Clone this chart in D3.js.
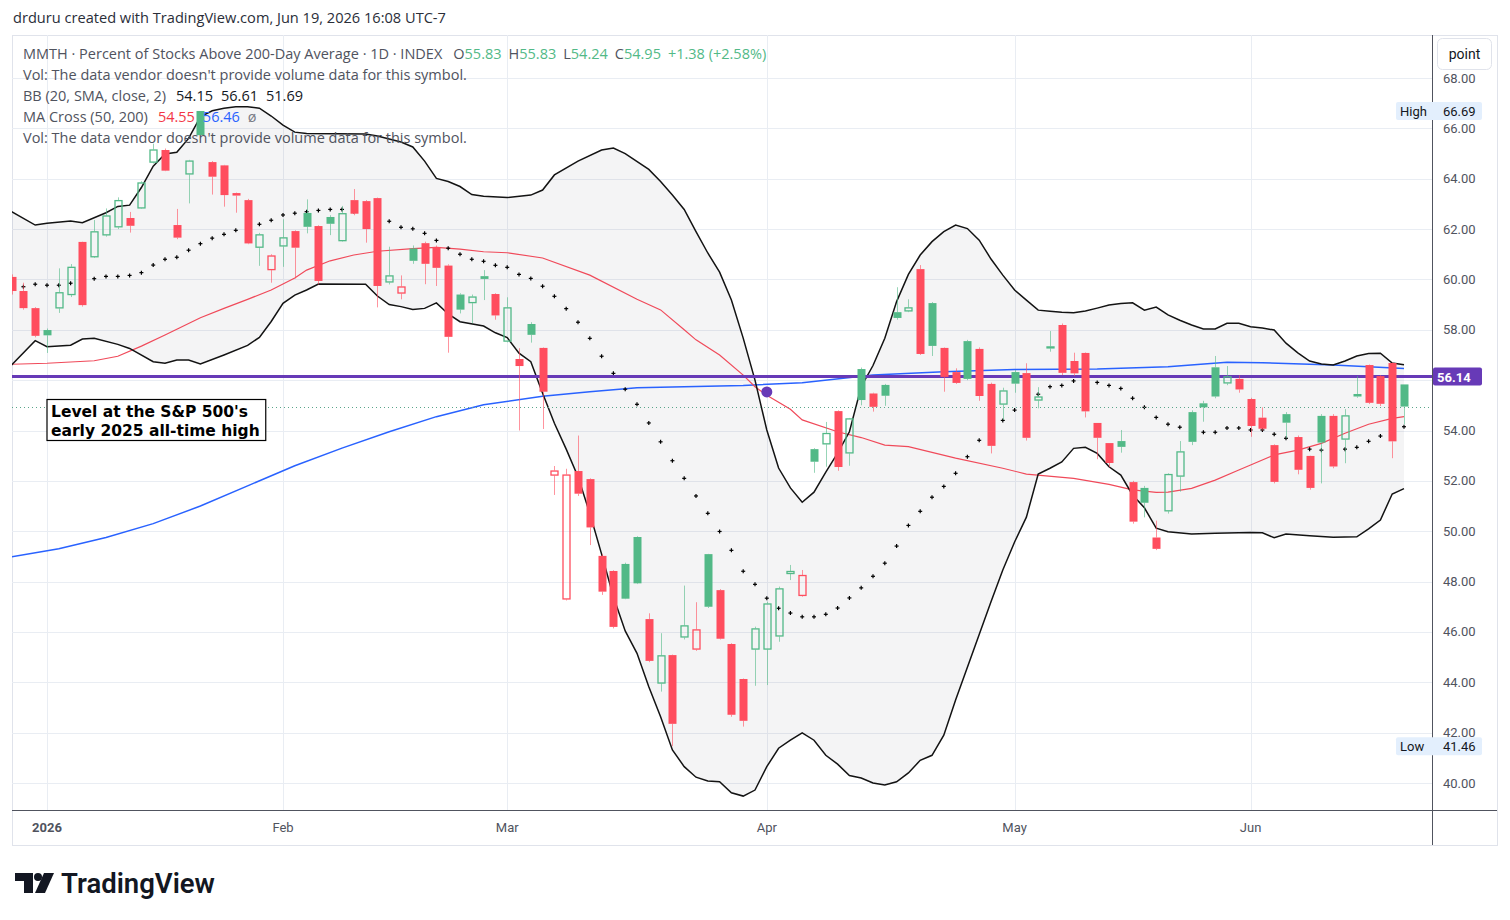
<!DOCTYPE html>
<html>
<head>
<meta charset="utf-8">
<script src="https://cdn.jsdelivr.net/npm/d3@7"></script>
<style>
  body { margin: 0; background: #fff; }
  svg { display: block; font-family: Roboto, "Noto Sans", sans-serif; }
  .legend, .caption { font-family: "Open Sans", "Noto Sans", sans-serif; }
</style>
</head>
<body>
<svg id="chart" width="1510" height="920"></svg>
<script>
// ---- data (Dec 29 2025 .. Jun 18 2026) ----
var holidays = ["2026-01-01", "2026-01-19", "2026-02-16", "2026-04-03", "2026-05-25", "2026-06-19"];

var opens = [60.10,59.54,58.86,57.99,58.85,59.38,61.49,60.88,61.75,62.07,
  62.44,62.82,64.64,65.14,62.16,64.17,66.69,64.66,64.53,63.43,
  63.15,61.26,60.37,61.31,61.92,62.64,62.12,62.48,61.52,63.15,
  63.11,63.23,59.88,59.44,61.23,61.44,61.29,60.55,59.40,59.06,
  60.13,59.42,57.53,56.84,58.23,57.28,52.21,47.29,52.39,52.07,
  49.02,48.42,48.70,49.77,46.51,43.95,45.08,45.78,45.30,49.09,
  47.66,45.52,44.13,45.30,45.30,45.82,48.30,47.43,53.26,53.45,
  54.77,53.09,56.44,55.47,55.81,58.70,58.73,60.41,59.06,57.28,
  56.32,57.55,57.24,55.85,55.03,56.32,56.28,55.19,57.26,58.19,
  56.76,57.08,54.30,53.50,53.58,51.95,51.72,49.75,50.79,52.17,
  54.73,55.08,56.51,55.87,56.05,55.25,54.51,53.42,54.65,53.74,
  52.99,54.58,54.58,53.64,55.45,56.60,56.16,56.68,55.83];
var highs = [60.20,59.87,58.90,58.05,60.44,60.61,61.50,62.36,62.82,63.26,
  62.68,63.90,65.39,65.20,62.80,64.75,66.69,64.70,64.55,63.45,
  63.20,61.85,61.00,62.39,61.95,63.18,62.15,62.55,62.92,63.59,
  63.15,63.25,61.30,60.16,61.35,61.50,61.35,60.60,59.45,59.40,
  60.37,59.45,59.29,57.27,58.30,57.30,52.59,52.48,53.80,52.10,
  49.10,48.45,48.75,49.80,46.74,45.95,45.10,47.84,47.18,49.10,
  47.70,45.55,44.15,46.21,47.20,47.80,48.66,48.46,53.30,54.34,
  54.80,54.50,56.50,55.50,55.85,59.69,59.21,60.57,59.10,57.30,
  56.47,57.60,57.30,55.90,55.70,56.40,56.67,55.72,57.95,58.25,
  57.09,57.10,54.30,53.50,54.02,52.00,51.80,50.42,52.30,53.58,
  54.80,55.18,56.96,56.56,56.19,55.30,54.92,53.45,54.73,53.80,
  53.00,54.65,54.65,54.85,56.16,56.62,56.20,56.70,55.83];
var lows = [59.40,58.80,57.70,57.08,58.67,59.30,58.92,60.85,61.70,62.00,
  61.86,62.80,64.60,64.30,61.60,63.02,65.70,63.37,62.89,62.65,
  61.40,60.54,59.87,60.50,60.04,61.83,59.80,61.76,61.50,62.55,
  61.46,58.89,59.80,59.21,60.62,59.81,59.74,57.09,58.65,58.26,
  59.18,58.40,57.50,54.00,57.49,54.06,51.44,47.25,51.40,49.45,
  47.47,46.14,47.30,47.90,44.80,43.63,41.46,45.70,45.25,46.95,
  45.70,42.63,42.24,43.86,43.89,45.61,48.06,47.40,52.32,52.56,
  52.40,52.60,55.00,54.75,54.98,58.40,58.70,57.00,56.96,55.54,
  55.85,56.00,55.18,53.09,54.42,55.50,53.60,54.88,57.13,56.20,
  56.16,54.52,52.86,52.54,53.12,50.30,50.55,49.25,50.70,51.57,
  53.42,54.35,55.28,55.80,55.50,53.75,54.00,51.90,53.69,52.26,
  51.65,51.90,52.50,52.70,55.30,55.05,54.97,52.90,54.24];
var closes = [59.54,58.86,57.76,57.78,59.49,60.50,58.98,61.91,62.54,63.15,
  62.13,63.85,65.16,64.32,61.66,64.72,65.73,64.08,63.35,63.33,
  61.43,61.79,60.95,61.67,61.26,62.09,59.94,62.21,62.63,62.61,
  62.00,59.74,60.16,59.72,60.74,60.62,60.46,57.72,58.80,59.32,
  60.02,58.57,58.89,56.56,57.80,55.54,52.41,52.25,51.49,50.15,
  47.60,46.20,47.32,47.93,44.85,45.07,42.35,46.26,46.10,47.00,
  45.73,42.71,42.47,46.14,47.13,47.73,48.42,48.26,52.76,53.90,
  52.55,54.48,55.21,54.94,55.38,58.47,58.89,57.04,57.36,56.13,
  55.89,56.05,55.37,53.39,55.59,55.86,53.71,55.35,57.34,56.29,
  56.27,54.76,53.71,52.71,53.35,50.38,51.13,49.30,52.27,53.17,
  53.55,54.92,55.35,56.15,55.63,54.18,54.07,51.96,54.31,52.44,
  51.72,53.52,52.57,54.60,55.35,55.10,55.06,53.57,54.95];

// BB middle (20 SMA), one value per bar
var bbMid = [59.74,59.71,59.81,59.77,59.77,59.85,59.94,60.03,60.12,60.12,
  60.16,60.27,60.57,60.80,60.88,61.16,61.42,61.64,61.79,61.95,
  62.08,62.19,62.35,62.56,62.63,62.69,62.74,62.78,62.78,62.70,
  62.63,62.45,62.31,62.07,62.01,61.83,61.55,61.24,61.00,60.80,
  60.72,60.56,60.48,60.20,60.04,59.73,59.33,58.84,58.30,57.66,
  56.95,56.27,55.64,55.04,54.30,53.55,52.80,52.10,51.40,50.71,
  49.99,49.24,48.41,47.89,47.34,46.94,46.75,46.60,46.60,46.70,
  46.95,47.35,47.75,48.21,48.73,49.41,50.23,50.79,51.35,51.78,
  52.30,52.96,53.61,54.02,54.40,54.81,55.10,55.44,55.74,55.79,
  55.97,55.97,55.91,55.79,55.67,55.28,54.92,54.52,54.25,54.13,
  54.02,53.93,53.93,54.10,54.10,54.02,54.02,53.85,53.69,53.46,
  53.26,53.22,53.22,53.26,53.33,53.57,53.78,53.94,54.15];

// [bar index, value]
var bbUpper = [[0,62.69],[2,62.16],[3,62.23],[5,62.32],[6,62.25],[8,62.65],[9,62.90],[10,62.95],[11,63.65],[12,64.50],
  [13,64.98],[14,65.05],[15,65.60],[16,66.46],[17,66.70],[18,66.80],[19,66.86],[20,66.86],[21,66.80],[22,66.49],
  [23,66.13],[24,65.85],[25,65.80],[30,65.78],[31,65.70],[33,65.46],[34,65.26],[35,64.70],[36,64.01],[37,63.89],
  [38,63.69],[39,63.37],[40,63.30],[42,63.25],[44,63.35],[45,63.55],[46,64.15],[48,64.70],[50,65.14],[51,65.22],
  [52,65.00],[54,64.37],[55,63.89],[56,63.35],[57,62.78],[58,61.90],[59,61.05],[60,60.29],[61,59.18],[62,57.67],
  [63,56.00],[64,54.02],[65,52.51],[66,51.72],[67,51.15],[68,51.55],[69,52.35],[70,53.10],[71,53.95],[72,55.74],
  [73,56.58],[74,57.66],[75,59.12],[76,60.20],[77,60.97],[78,61.50],[79,61.90],[80,62.16],[81,62.02],[82,61.56],
  [83,60.81],[84,60.17],[85,59.58],[86,59.18],[87,58.78],[88,58.74],[89,58.70],[90,58.68],[91,58.75],[92,58.86],
  [93,58.98],[94,59.04],[95,59.07],[96,58.78],[97,58.90],[98,58.59],[99,58.38],[100,58.19],[101,58.03],[102,58.03],
  [103,58.26],[104,58.26],[105,58.12],[106,58.07],[107,57.99],[108,57.47],[109,57.08],[110,56.76],[111,56.64],[112,56.60],
  [113,56.76],[114,56.96],[115,57.06],[116,57.07],[117,56.68],[118,56.61]];
var bbLower = [[0,56.60],[2,57.57],[3,57.33],[5,57.39],[6,57.63],[7,57.66],[9,57.42],[10,57.26],[12,56.73],[13,56.67],
  [14,56.80],[15,56.80],[16,56.64],[18,57.00],[20,57.38],[21,57.70],[22,58.33],[23,59.05],[24,59.38],[25,59.58],
  [26,59.82],[30,59.81],[31,59.34],[32,59.00],[33,58.92],[34,58.81],[35,58.85],[36,59.07],[37,58.63],[38,58.32],
  [40,58.15],[41,57.88],[42,57.69],[43,57.07],[44,56.73],[45,55.48],[46,54.29],[47,53.26],[48,52.16],[49,50.71],
  [50,49.09],[51,47.40],[52,46.04],[53,45.15],[54,43.82],[55,42.63],[56,41.31],[57,40.65],[58,40.23],[59,40.08],
  [60,40.05],[61,39.61],[62,39.48],[63,39.72],[64,40.65],[65,41.38],[66,41.70],[67,41.99],[68,41.70],[69,41.10],
  [70,40.75],[71,40.30],[72,40.20],[73,40.00],[74,39.92],[75,40.05],[76,40.40],[77,40.90],[78,41.10],[79,41.90],
  [80,43.30],[81,44.60],[82,45.90],[83,47.20],[84,48.46],[85,49.57],[86,50.56],[87,52.27],[88,52.50],[89,52.75],
  [90,53.29],[91,53.33],[92,53.09],[93,52.56],[94,52.23],[95,51.44],[96,50.93],[97,50.12],[98,49.98],[100,49.89],
  [102,49.92],[105,49.95],[106,49.94],[107,49.74],[108,49.89],[110,49.82],[112,49.76],[114,49.78],[115,50.09],[116,50.44],
  [117,51.48],[118,51.69]];
var ma50 = [[0,56.63],[3,56.67],[7,56.77],[9,56.95],[11,57.35],[13,57.79],[14,58.02],[16,58.48],[18,58.85],[20,59.21],
  [22,59.58],[24,60.06],[25,60.37],[27,60.74],[29,60.97],[31,61.12],[34,61.22],[36,61.27],[38,61.20],[40,61.10],
  [42,61.06],[45,60.85],[49,60.17],[53,59.21],[55,58.79],[57,58.00],[58,57.60],[60,57.00],[62,56.20],[63,55.74],
  [64,55.40],[66,54.84],[67,54.42],[70,53.95],[72,53.72],[74,53.42],[76,53.36],[80,52.90],[84,52.50],[86,52.27],
  [90,52.10],[93,51.86],[95,51.64],[97,51.54],[98,51.55],[100,51.70],[102,52.03],[104,52.43],[105,52.63],[107,53.03],
  [109,53.22],[111,53.49],[113,53.89],[115,54.25],[117,54.48],[118,54.55]];
var ma200 = [[0,48.98],[4,49.30],[8,49.75],[12,50.30],[16,51.00],[20,51.80],[24,52.60],[28,53.30],[32,53.95],[36,54.55],
  [40,55.02],[45,55.36],[49,55.54],[53,55.70],[62,55.79],[67,55.90],[73,56.20],[79,56.33],[85,56.42],[92,56.44],
  [98,56.53],[103,56.71],[106,56.69],[112,56.60],[118,56.46]];
var crossPoint = [64, 55.53];
var levelValue = 56.14;
var levelNote = ["Level at the S&P 500's", "early 2025 all-time high"];
var priceTicks = d3.range(40, 69, 2);

// ---- setup ----
var svg = d3.select("#chart");
var plot = {left: 12, right: 1432, top: 35, bottom: 810};
var upColor = "#52b987", downColor = "#ff4d5e";

// trading days: weekdays minus exchange holidays
var dates = d3.timeDay.range(new Date(2025, 11, 29), new Date(2026, 5, 19))
  .filter(function(d) { return d.getDay() > 0 && d.getDay() < 6; })
  .filter(function(d) { return holidays.indexOf(d3.timeFormat("%Y-%m-%d")(d)) < 0; });

var x = d3.scaleLinear().domain([0, dates.length - 1]).range([11.6, 11.6 + (dates.length - 1) * 11.8]);
var y = d3.scaleLinear().domain([40, 68]).range([783, 78]);

var bars = closes.map(function(c, i) {
  var prev = i === 0 ? opens[0] : closes[i - 1];
  return {i: i, o: opens[i], h: highs[i], l: lows[i], c: c, up: c >= prev, hollow: c > opens[i]};
});

// month ticks = first trading day of each month
var monthTicks = [];
dates.forEach(function(d, i) {
  if (i > 0 && d.getMonth() !== dates[i - 1].getMonth()) monthTicks.push({i: i, d: d});
});

svg.append("defs").append("clipPath").attr("id", "plotClip")
  .append("rect").attr("x", plot.left).attr("y", plot.top)
  .attr("width", plot.right - plot.left).attr("height", plot.bottom - plot.top);

// top caption
svg.append("text").attr("class", "caption").attr("x", 13).attr("y", 23).attr("font-size", 14.6).attr("fill", "#2a2e39")
  .text("drduru created with TradingView.com, Jun 19, 2026 16:08 UTC-7");

// frame
svg.append("rect").attr("x", 12.5).attr("y", 35.5).attr("width", 1485).attr("height", 810)
  .attr("fill", "none").attr("stroke", "#e0e3eb");

// grid
var grid = svg.append("g").attr("stroke", "#e9edf3").attr("stroke-width", 1);
grid.selectAll(".hg").data(priceTicks).enter().append("line")
  .attr("x1", plot.left).attr("x2", plot.right)
  .attr("y1", function(d) { return Math.round(y(d)) + 0.5; })
  .attr("y2", function(d) { return Math.round(y(d)) + 0.5; });
grid.selectAll(".vg").data(monthTicks).enter().append("line")
  .attr("y1", plot.top).attr("y2", plot.bottom)
  .attr("x1", function(d) { return Math.round(x(d.i)) + 0.5; })
  .attr("x2", function(d) { return Math.round(x(d.i)) + 0.5; });

var g = svg.append("g").attr("clip-path", "url(#plotClip)");

// bollinger fill
var lineGen = d3.line().x(function(d) { return x(d[0]); }).y(function(d) { return y(d[1]); });
var bandPts = bbUpper.concat(bbLower.slice().reverse());
g.append("path").attr("d", lineGen(bandPts) + "Z")
  .attr("fill", "#2a2e39").attr("fill-opacity", 0.05);

// legend text (under the lines, as in the picture)
var legend = svg.append("g").attr("class", "legend").attr("font-size", 14.5).attr("fill", "#50535e");
var l1 = legend.append("text").attr("x", 23).attr("y", 59);
l1.append("tspan").text("MMTH \u00b7 Percent of Stocks Above 200-Day Average \u00b7 1D \u00b7 INDEX");
var last = bars[bars.length - 1], prevClose = closes[closes.length - 2];
[["O", last.o], ["H", last.h], ["L", last.l], ["C", last.c]].forEach(function(p, k) {
  l1.append("tspan").attr("dx", k === 0 ? 11 : 7).text(p[0]);
  l1.append("tspan").attr("fill", upColor).text(p[1].toFixed(2));
});
var chg = last.c - prevClose;
l1.append("tspan").attr("dx", 7).attr("fill", upColor)
  .text("+" + chg.toFixed(2) + " (+" + (chg / prevClose * 100).toFixed(2) + "%)");

legend.append("text").attr("x", 23).attr("y", 80).text("Vol: The data vendor doesn't provide volume data for this symbol.");
var l3 = legend.append("text").attr("x", 23).attr("y", 101);
l3.append("tspan").text("BB (20, SMA, close, 2)");
[bbMid[bbMid.length - 1], bbUpper[bbUpper.length - 1][1], bbLower[bbLower.length - 1][1]].forEach(function(v, k) {
  l3.append("tspan").attr("dx", k === 0 ? 10 : 8).attr("fill", "#131722").text(v.toFixed(2));
});
var l4 = legend.append("text").attr("x", 23).attr("y", 122);
l4.append("tspan").text("MA Cross (50, 200)");
l4.append("tspan").attr("dx", 10).attr("fill", "#f23645").text(ma50[ma50.length - 1][1].toFixed(2));
l4.append("tspan").attr("dx", 8).attr("fill", "#2962ff").text(ma200[ma200.length - 1][1].toFixed(2));
l4.append("tspan").attr("dx", 8).attr("fill", "#787b86").text("\u00f8");
legend.append("text").attr("x", 23).attr("y", 143).text("Vol: The data vendor doesn't provide volume data for this symbol.");

// moving averages + bands
g.append("path").attr("d", lineGen(ma200)).attr("fill", "none").attr("stroke", "#2962ff").attr("stroke-width", 1.5);
g.append("path").attr("d", lineGen(ma50)).attr("fill", "none").attr("stroke", "#f04a5a").attr("stroke-width", 1.2);
g.append("path").attr("d", lineGen(bbUpper)).attr("fill", "none").attr("stroke", "#131313").attr("stroke-width", 1.5);
g.append("path").attr("d", lineGen(bbLower)).attr("fill", "none").attr("stroke", "#131313").attr("stroke-width", 1.5);

// 20 SMA as cross markers
var marks = g.append("g").attr("stroke", "#000").attr("stroke-width", 1.2);
bbMid.forEach(function(v, i) {
  var cx = x(i), cy = y(v);
  marks.append("line").attr("x1", cx - 2).attr("x2", cx + 2).attr("y1", cy).attr("y2", cy);
  marks.append("line").attr("x1", cx).attr("x2", cx).attr("y1", cy - 2).attr("y2", cy + 2);
});

// level line + last price line
g.append("line").attr("x1", plot.left).attr("x2", plot.right)
  .attr("y1", y(levelValue)).attr("y2", y(levelValue))
  .attr("stroke", "#673ab7").attr("stroke-width", 3);
g.append("line").attr("x1", plot.left).attr("x2", plot.right)
  .attr("y1", Math.round(y(last.c)) + 0.5).attr("y2", Math.round(y(last.c)) + 0.5)
  .attr("stroke", "#5aa58a").attr("stroke-width", 1).attr("stroke-dasharray", "1,3");

// candles
var cg = g.append("g");
var bw = 8;
bars.forEach(function(b) {
  var col = b.up ? upColor : downColor;
  var cx = Math.round(x(b.i)) + 0.5;
  var top = y(Math.max(b.o, b.c)), bot = y(Math.min(b.o, b.c));
  if (bot - top < 1) bot = top + 1;
  cg.append("line").attr("x1", cx).attr("x2", cx).attr("y1", y(b.h)).attr("y2", top)
    .attr("stroke", col).attr("stroke-opacity", 0.6);
  cg.append("line").attr("x1", cx).attr("x2", cx).attr("y1", bot).attr("y2", y(b.l))
    .attr("stroke", col).attr("stroke-opacity", 0.6);
  if (b.hollow) {
    cg.append("rect").attr("x", cx - bw / 2 + 0.5).attr("y", top + 0.5)
      .attr("width", bw - 1).attr("height", Math.max(bot - top - 1, 0.5))
      .attr("fill", "none").attr("stroke", col).attr("stroke-width", 1.3);
  } else {
    cg.append("rect").attr("x", cx - bw / 2).attr("y", top)
      .attr("width", bw).attr("height", bot - top).attr("fill", col);
  }
});

// MA cross marker
g.append("circle").attr("cx", x(crossPoint[0])).attr("cy", y(crossPoint[1])).attr("r", 5.5).attr("fill", "#673ab7");

// annotation
var note = svg.append("g");
var noteBox = note.append("rect").attr("x", x(3)).attr("y", 399.5).attr("height", 41)
  .attr("fill", "#fff").attr("stroke", "#000").attr("stroke-width", 1.2);
var noteText = note.append("text").attr("font-family", "'DejaVu Sans', Verdana, sans-serif")
  .attr("font-size", 15.5).attr("font-weight", "bold").attr("fill", "#000");
levelNote.forEach(function(s, k) {
  noteText.append("tspan").attr("x", x(3) + 4).attr("y", 417 + k * 19).text(s);
});
noteBox.attr("width", noteText.node().getBBox().width + 10);

// axes lines
svg.append("line").attr("x1", plot.right + 0.5).attr("x2", plot.right + 0.5).attr("y1", plot.top).attr("y2", 845)
  .attr("stroke", "#50535e");
svg.append("line").attr("x1", plot.left).attr("x2", 1497).attr("y1", plot.bottom + 0.5).attr("y2", plot.bottom + 0.5)
  .attr("stroke", "#50535e");

// price axis (ticks hidden behind the level label are skipped)
var pa = svg.append("g").attr("font-size", 13).attr("fill", "#50535e");
pa.selectAll("text").data(priceTicks.filter(function(d) { return Math.abs(y(d) - y(levelValue)) > 14; }))
  .enter().append("text")
  .attr("x", 1443).attr("y", function(d) { return y(d) + 4.5; })
  .text(function(d) { return d.toFixed(2); });

function sideLabel(label, v) {
  var gy = y(v);
  svg.append("rect").attr("x", 1396).attr("y", gy - 9).attr("width", 86).attr("height", 18)
    .attr("rx", 2).attr("fill", "#e3effd");
  svg.append("text").attr("x", 1400).attr("y", gy + 5).attr("font-size", 13).attr("fill", "#131722").text(label);
  svg.append("text").attr("x", 1443).attr("y", gy + 5).attr("font-size", 13).attr("fill", "#131722").text(v.toFixed(2));
}
sideLabel("High", d3.max(highs));
sideLabel("Low", d3.min(lows));

svg.append("rect").attr("x", 1433).attr("y", y(levelValue) - 9).attr("width", 49).attr("height", 18)
  .attr("rx", 2).attr("fill", "#673ab7");
svg.append("text").attr("x", 1437).attr("y", y(levelValue) + 5).attr("font-size", 13).attr("font-weight", "bold")
  .attr("fill", "#fff").text(levelValue.toFixed(2));

// "point" button
svg.append("rect").attr("x", 1437.5).attr("y", 38.5).attr("width", 54).attr("height", 31).attr("rx", 5)
  .attr("fill", "#fff").attr("stroke", "#e0e3eb");
svg.append("text").attr("x", 1464.5).attr("y", 59).attr("text-anchor", "middle").attr("font-size", 14)
  .attr("fill", "#131722").text("point");

// time axis
svg.append("g").attr("font-size", 13).attr("fill", "#50535e")
  .selectAll("text").data(monthTicks).enter().append("text")
  .attr("x", function(d) { return x(d.i); }).attr("y", 832).attr("text-anchor", "middle")
  .attr("font-weight", function(d) { return d.d.getMonth() === 0 ? "bold" : "normal"; })
  .text(function(d) { return d.d.getMonth() === 0 ? d3.timeFormat("%Y")(d.d) : d3.timeFormat("%b")(d.d); });

// TradingView mark
var logo = svg.append("g").attr("fill", "#131722");
logo.append("path").attr("d", "M15 873h18v20h-9v-12h-9z");
logo.append("circle").attr("cx", 38).attr("cy", 877).attr("r", 4);
logo.append("path").attr("d", "M44 873h10l-9 20h-10z");
logo.append("text").attr("x", 61).attr("y", 893).attr("font-size", 27.5).attr("font-weight", 600)
  .text("TradingView");
</script>
</body>
</html>
